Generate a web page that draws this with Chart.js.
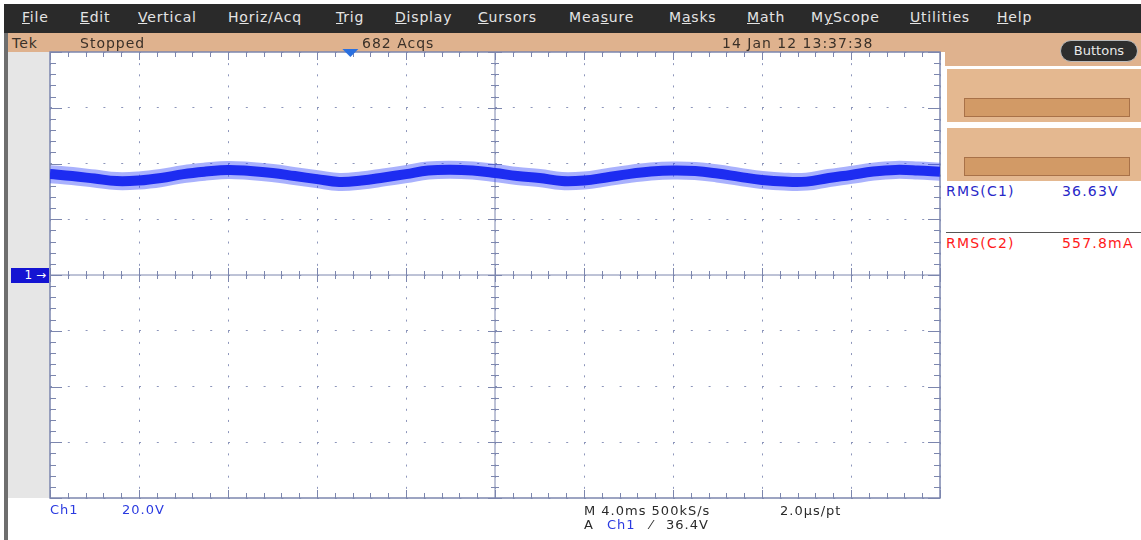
<!DOCTYPE html>
<html>
<head>
<meta charset="utf-8">
<script src="https://cdn.jsdelivr.net/npm/chart.js@4/dist/chart.umd.min.js"></script>
<style>
  html, body { margin: 0; padding: 0; background: #fff; }
  body { width: 1141px; height: 540px; position: relative; overflow: hidden; font-family: "DejaVu Sans", sans-serif; }
  .abs { position: absolute; white-space: nowrap; }
  #menubar { left: 4px; top: 4px; width: 1137px; height: 29px; background: #2a2a2a; }
  .menu { color: #e4e4e4; font-size: 14px; letter-spacing: 0.8px; top: 7px; }
  #status { left: 8px; top: 33px; width: 937px; height: 19px; background: #dfb28e; }
  .stat { color: #3a3028; font-size: 14px; letter-spacing: 1px; top: 35px; }
  #leftstrip { left: 4px; top: 33px; width: 4px; height: 507px; background: #6e6e6e; }
  #gutter { left: 8px; top: 52px; width: 42px; height: 446px; background: #e6e6e6; }
  #chartBox { left: 45px; top: 47px; width: 900px; height: 456px; }
  #rightTop { left: 945px; top: 33px; width: 196px; height: 33px; background: #dfb28e; }
  .panel { left: 947px; width: 194px; height: 53px; background: #e4b890; }
  .bar { left: 964px; width: 166px; height: 19px; background: #d29a66; border: 1px solid #a87148; box-sizing: border-box; }
  #buttons { left: 1060px; top: 40px; width: 78px; height: 22px; background: #2e2e2e; border: 1px solid #bbb; border-radius: 11px; box-sizing: border-box;
             color: #e8e8e8; font-size: 13px; line-height: 20px; text-align: center; }
  .meas { font-size: 14px; letter-spacing: 1.2px; }
  .lbl { font-size: 13px; letter-spacing: 1px; }
  #ch1mark { left: 11px; top: 268px; width: 38px; height: 15px; background: #1414d2; color: #fff; font-size: 12px; line-height: 15px; text-align: right; padding-right: 3px; box-sizing: border-box; }
</style>
</head>
<body>
<div id="menubar" class="abs"></div>
<div id="status" class="abs"></div>
<div id="rightTop" class="abs"></div>
<div id="leftstrip" class="abs"></div>
<div id="gutter" class="abs"></div>
<div class="abs panel" style="top:69px"></div>
<div class="abs bar" style="top:98px"></div>
<div class="abs panel" style="top:128px"></div>
<div class="abs bar" style="top:157px"></div>
<div id="buttons" class="abs">Buttons</div>
<div id="chartBox" class="abs"><canvas id="scope"></canvas></div>
<div id="ch1mark" class="abs">1 &#8594;</div>
<div class="abs" style="left:946px; top:232px; width:195px; height:1px; background:#555"></div>
<div id="texts"></div>
<script>
// Menu + status strings
const menuItems = ['<u>F</u>ile', '<u>E</u>dit', '<u>V</u>ertical', 'H<u>o</u>riz/Acq', '<u>T</u>rig', '<u>D</u>isplay', '<u>C</u>ursors', 'Mea<u>s</u>ure', 'M<u>a</u>sks', '<u>M</u>ath', 'M<u>y</u>Scope', '<u>U</u>tilities', '<u>H</u>elp'];
const menuX = [22, 80, 138, 228, 336, 395, 478, 569, 669, 747, 811, 910, 997];
const statusItems = ['Tek', 'Stopped', '682 Acqs', '14 Jan 12 13:37:38'];
const statusX = [12, 80, 362, 722];

// Measurements
const measLabels = ['RMS(C1)', 'RMS(C2)'];
const measValues = ['36.63V', '557.8mA'];
const measColors = ['#2828c8', '#ff1a1a'];

// Channel 1 trace: time (ms) and voltage (V)
const timeMs = [0, 1, 2, 3, 4, 5, 6, 7, 8, 9, 10, 11, 12, 13, 14, 15, 16, 17, 18, 19, 20,
  21, 22, 23, 24, 25, 26, 27, 28, 29, 30, 31, 32, 33, 34, 35, 36, 37, 38, 39, 40];
const ch1Volts = [36.2, 35.5, 34.6, 33.7, 33.9, 34.8, 36.2, 37.1, 37.7, 37.3, 36.6,
  35.5, 34.4, 33.4, 33.9, 35.0, 36.2, 37.5, 37.8, 37.5, 36.6,
  35.5, 34.8, 33.7, 33.9, 35.0, 36.2, 37.1, 37.5, 37.3, 36.4,
  35.2, 34.1, 33.5, 33.5, 34.8, 35.9, 37.1, 37.7, 37.5, 37.0];

// Scope settings (10 x 4 ms, 8 x 20 V)
const timeRange = [0, 40];
const voltRange = [-80, 80];
const triggerMs = 13.5;

const texts = document.getElementById('texts');
function addText(html, x, y, cls, color) {
  const d = document.createElement('div');
  d.className = 'abs ' + cls;
  d.style.left = x + 'px';
  d.style.top = y + 'px';
  if (color) d.style.color = color;
  d.innerHTML = html;
  texts.appendChild(d);
}
menuItems.forEach((m, i) => addText(m, menuX[i], 9, 'menu'));
statusItems.forEach((s, i) => addText(s, statusX[i], 35, 'stat'));
measLabels.forEach((m, i) => {
  addText(m, 946, 183 + i * 52, 'meas', measColors[i]);
  addText(measValues[i], 1062, 183 + i * 52, 'meas', measColors[i]);
});
addText('Ch1', 50, 502, 'lbl', '#2a3ae0');
addText('20.0V', 122, 502, 'lbl', '#2a3ae0');
addText('M 4.0ms 500kS/s', 584, 503, 'lbl', '#2a2a2a');
addText('2.0\u00b5s/pt', 780, 503, 'lbl', '#2a2a2a');
addText('A', 584, 517, 'lbl', '#2a2a2a');
addText('Ch1', 607, 517, 'lbl', '#2a3ae0');
addText('\u2044', 650, 517, 'lbl', '#2a2a2a');
addText('36.4V', 666, 517, 'lbl', '#2a2a2a');

// Graticule: frame, centre cross, minor ticks, trigger marker
const graticule = {
  id: 'graticule',
  beforeDatasetsDraw(chart) {
    const { ctx, chartArea: a, scales: { x, y } } = chart;
    const cx = x.getPixelForValue(20);
    const cy = y.getPixelForValue(0);
    ctx.save();
    ctx.strokeStyle = '#7c86ae';
    ctx.lineWidth = 1;
    ctx.beginPath();
    ctx.moveTo(cx, a.top); ctx.lineTo(cx, a.bottom);
    ctx.moveTo(a.left, cy); ctx.lineTo(a.right, cy);
    // minor ticks along x (0.8 ms)
    for (let i = 0; i <= 50; i++) {
      const px = Math.round(x.getPixelForValue(i * 0.8)) + 0.5;
      const major = i % 5 === 0;
      const c = major ? 7 : 4;
      ctx.moveTo(px, cy - c); ctx.lineTo(px, cy + c);
      ctx.moveTo(px, a.top); ctx.lineTo(px, a.top + (major ? 8 : 5));
      ctx.moveTo(px, a.bottom); ctx.lineTo(px, a.bottom - (major ? 8 : 5));
    }
    // minor ticks along y (4 V)
    for (let j = 0; j <= 40; j++) {
      const py = Math.round(y.getPixelForValue(-80 + j * 4)) + 0.5;
      const major = j % 5 === 0;
      const c = major ? 7 : 4;
      ctx.moveTo(cx - c, py); ctx.lineTo(cx + c, py);
      ctx.moveTo(a.left, py); ctx.lineTo(a.left + (major ? 12 : 6), py);
      ctx.moveTo(a.right, py); ctx.lineTo(a.right - (major ? 12 : 6), py);
    }
    ctx.stroke();
    ctx.lineWidth = 1.5;
    ctx.strokeRect(a.left, a.top, a.right - a.left, a.bottom - a.top);
    ctx.restore();
  },
  afterDraw(chart) {
    const { ctx, chartArea: a, scales: { x } } = chart;
    const tx = x.getPixelForValue(triggerMs);
    ctx.save();
    ctx.fillStyle = '#2a70e0';
    ctx.beginPath();
    ctx.moveTo(tx - 8, a.top - 3);
    ctx.lineTo(tx + 8, a.top - 3);
    ctx.lineTo(tx, a.top + 5);
    ctx.closePath();
    ctx.fill();
    ctx.restore();
  }
};

const points = timeMs.map((t, i) => ({ x: t, y: ch1Volts[i] }));

new Chart(document.getElementById('scope'), {
  type: 'line',
  data: {
    datasets: [{
      label: 'Ch1 noise',
      data: points,
      borderColor: 'rgba(40, 60, 250, 0.4)',
      borderWidth: 18,
      pointRadius: 0,
      tension: 0.4,
      clip: 0
    }, {
      label: 'Ch1',
      data: points,
      borderColor: 'rgb(22, 34, 235)',
      borderWidth: 10,
      pointRadius: 0,
      tension: 0.4,
      clip: 0
    }]
  },
  options: {
    responsive: true,
    maintainAspectRatio: false,
    animation: false,
    layout: { padding: { left: 5, top: 5, right: 5, bottom: 5 } },
    plugins: { legend: { display: false }, tooltip: { enabled: false } },
    scales: {
      x: {
        type: 'linear', min: timeRange[0], max: timeRange[1],
        ticks: { stepSize: 4, display: false },
        grid: { color: '#8d96bb', lineWidth: 1, drawTicks: false },
        border: { display: false, dash: [2, 9.15] }
      },
      y: {
        type: 'linear', min: voltRange[0], max: voltRange[1],
        ticks: { stepSize: 20, display: false },
        grid: { color: '#8d96bb', lineWidth: 1, drawTicks: false },
        border: { display: false, dash: [2, 15.8] }
      }
    }
  },
  plugins: [graticule]
});
</script>
</body>
</html>
